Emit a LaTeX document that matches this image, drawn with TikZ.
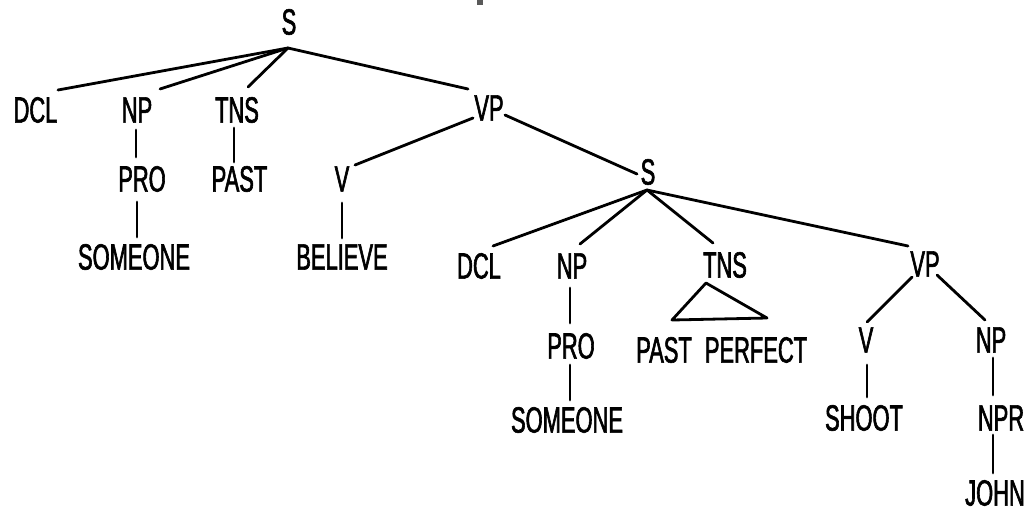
\documentclass[tikz,border=0pt]{standalone}
\usepackage{fontspec}
\newfontfamily\treefont{Liberation Sans}[FakeStretch=0.6,FakeBold=1.6]
\begin{document}
\begin{tikzpicture}[x=1pt,y=-1pt,
  lbl/.style={inner sep=0pt,outer sep=0pt,font=\treefont\fontsize{36.5}{40}\selectfont},
  edge/.style={line width=2.8pt,line cap=round,line join=round}]
\useasboundingbox (0,0) rectangle (1027,512);
\fill[black!65] (477,0) rectangle (483,5);
% upper tree
\node[lbl] (s1) at (289,22) {S};
\node[lbl] (dcl1) at (35.5,110) {DCL};
\node[lbl] (np1) at (137,110) {NP};
\node[lbl] (tns1) at (237,110) {TNS};
\node[lbl] (vp1) at (489,108) {VP};
\node[lbl] (pro1) at (142,179) {PRO};
\node[lbl] (past1) at (239.5,179) {PAST};
\node[lbl] (v1) at (342,179) {V};
\node[lbl] (someone1) at (134,257) {SOMEONE};
\node[lbl] (believe) at (342,257) {BELIEVE};
% lower tree
\node[lbl] (s2) at (648,172) {S};
\node[lbl] (dcl2) at (479,266) {DCL};
\node[lbl] (np2) at (572,266) {NP};
\node[lbl] (tns2) at (725,265) {TNS};
\node[lbl] (vp2) at (925,264) {VP};
\node[lbl] (pro2) at (571,346) {PRO};
\node[lbl] (past2) at (664,350) {PAST};
\node[lbl] (perfect) at (756,350) {PERFECT};
\node[lbl] (v2) at (866,340) {V};
\node[lbl] (np3) at (991,340) {NP};
\node[lbl] (someone2) at (567,420) {SOMEONE};
\node[lbl] (shoot) at (864,418) {SHOOT};
\node[lbl] (npr) at (1001,418) {NPR};
\node[lbl] (john) at (995,493) {JOHN};
% connectors, upper
\draw[edge] ([xshift=-1pt,yshift=-26pt]s1.center) -- ([xshift=22.5pt,yshift=20pt]dcl1.center);
\draw[edge] ([xshift=-1pt,yshift=-26pt]s1.center) -- ([xshift=23pt,yshift=21pt]np1.center);
\draw[edge] ([xshift=-1pt,yshift=-26pt]s1.center) -- ([xshift=11pt,yshift=23pt]tns1.center);
\draw[edge] ([xshift=-1pt,yshift=-26pt]s1.center) -- ([xshift=-21pt,yshift=19pt]vp1.center);
\draw[edge] ([xshift=-1pt,yshift=-20pt]np1.center) -- ([xshift=-6pt,yshift=22pt]pro1.center);
\draw[edge] ([xshift=-3pt,yshift=-18pt]tns1.center) -- ([xshift=-5.5pt,yshift=17pt]past1.center);
\draw[edge] ([xshift=-5pt,yshift=-23pt]pro1.center) -- ([xshift=3pt,yshift=20pt]someone1.center);
\draw[edge] ([xshift=-16pt,yshift=-10pt]vp1.center) -- ([xshift=13pt,yshift=14pt]v1.center);
\draw[edge] ([yshift=-24pt]v1.center) -- ([yshift=19pt]believe.center);
\draw[edge] ([xshift=16pt,yshift=-7pt]vp1.center) -- ([xshift=-11pt,yshift=-2pt]s2.center);
% connectors, lower
\draw[edge] ([xshift=-1pt,yshift=-18pt]s2.center) -- ([xshift=14pt,yshift=20pt]dcl2.center);
\draw[edge] ([xshift=-1pt,yshift=-18pt]s2.center) -- ([xshift=8pt,yshift=22pt]np2.center);
\draw[edge] ([xshift=-1pt,yshift=-18pt]s2.center) -- ([xshift=-12pt,yshift=22pt]tns2.center);
\draw[edge] ([xshift=-1pt,yshift=-18pt]s2.center) -- ([xshift=-17pt,yshift=18pt]vp2.center);
\draw[edge] ([xshift=-2pt,yshift=-22pt]np2.center) -- ([xshift=-1pt,yshift=23pt]pro2.center);
\draw[edge] ([xshift=-1pt,yshift=-19pt]pro2.center) -- ([xshift=3pt,yshift=20pt]someone2.center);
\draw[edge] ([xshift=-19pt,yshift=-18pt]tns2.center) -- ([xshift=8pt,yshift=30pt]past2.center)
  -- ([xshift=11pt,yshift=32pt]perfect.center) -- cycle;
\draw[edge] ([xshift=-13pt,yshift=-13pt]vp2.center) -- ([xshift=1pt,yshift=18pt]v2.center);
\draw[edge] ([xshift=12pt,yshift=-11pt]vp2.center) -- ([xshift=-6pt,yshift=20pt]np3.center);
\draw[edge] ([xshift=1pt,yshift=-25pt]v2.center) -- ([xshift=3pt,yshift=21pt]shoot.center);
\draw[edge] ([xshift=2pt,yshift=-18pt]np3.center) -- ([xshift=-8pt,yshift=23pt]npr.center);
\draw[edge] ([xshift=-8pt,yshift=-17pt]npr.center) -- ([xshift=-2pt,yshift=20pt]john.center);
\end{tikzpicture}
\end{document}
